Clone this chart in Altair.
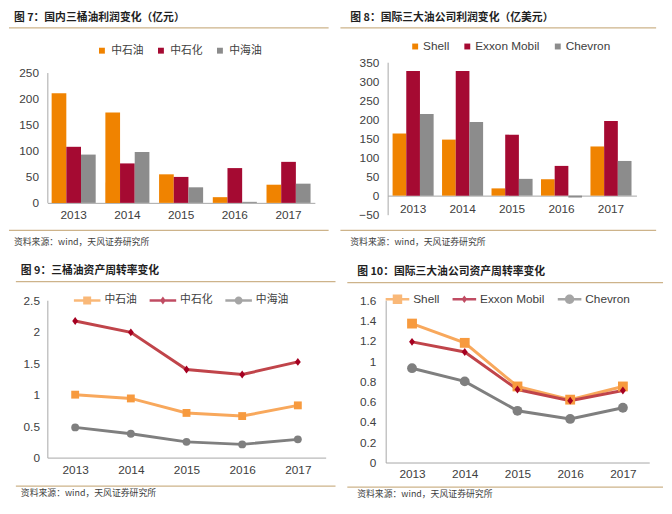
import altair as alt
import pandas as pd

# ---------------- data ----------------
years = ["2013", "2014", "2015", "2016", "2017"]
cn_companies = ["中石油", "中石化", "中海油"]
intl_companies = ["Shell", "Exxon Mobil", "Chevron"]

profit_cnpc = [211, 174, 55, 11, 35]
profit_sinopec = [108, 76, 50, 67, 79]
profit_cnooc = [93, 98, 30, 2, 37]

profit_shell = [163, 147, 19, 43, 129]
profit_exxon = [327, 327, 160, 78, 196]
profit_chevron = [214, 193, 44, -5, 91]

turnover_cnpc = [1.00, 0.94, 0.71, 0.66, 0.83]
turnover_sinopec = [2.17, 1.99, 1.40, 1.32, 1.52]
turnover_cnooc = [0.48, 0.38, 0.25, 0.21, 0.29]

turnover_shell = [1.37, 1.18, 0.75, 0.62, 0.75]
turnover_exxon = [1.19, 1.09, 0.72, 0.61, 0.71]
turnover_chevron = [0.93, 0.80, 0.51, 0.43, 0.54]

ticks_profit_cn = [0, 50, 100, 150, 200, 250]
ticks_profit_intl = [-50, 0, 50, 100, 150, 200, 250, 300, 350]
ticks_turn_cn = [0, 0.5, 1, 1.5, 2, 2.5]
ticks_turn_intl = [0, 0.2, 0.4, 0.6, 0.8, 1.0, 1.2, 1.4, 1.6]

title7 = "图 7：国内三桶油利润变化（亿元）"
title8 = "图 8：国际三大油公司利润变化（亿美元）"
title9 = "图 9：三桶油资产周转率变化"
title10 = "图 10：国际三大油公司资产周转率变化"
source_text = "资料来源：wind，天风证券研究所"

# ---------------- styles ----------------
CJK = "Noto Sans CJK SC"
LAT = "Liberation Sans"
RULE = "#CDB38A"
AXIS = "#A6A6A6"
LABEL = "#404040"
BAR_COLORS = ["#F08300", "#A50A32", "#8C8C8C"]
LINE_COLORS = ["#F8A85C", "#C0444A", "#7F7F7F"]
MARKER_COLORS = ["#F79A3E", "#A50021", "#7F7F7F"]


def long_frame(companies, series):
    rows = []
    for c, vals in zip(companies, series):
        for y, v in zip(years, vals):
            rows.append({"year": y, "company": c, "value": v})
    return pd.DataFrame(rows)


def hrule(x0, x1, y, color=RULE, width=1.2):
    return alt.Chart(pd.DataFrame({"k": [0]})).mark_rule(color=color, strokeWidth=width).encode(
        x=alt.value(x0), x2=alt.value(x1), y=alt.value(y))


def decorations(title, left, right, title_xy, rule_top, rule_bottom, source_xy):
    t = alt.Chart(pd.DataFrame({"t": [title]})).mark_text(
        align="left", baseline="middle", font=CJK, fontSize=11, fontWeight="bold",
        color="#1F1F1F").encode(text="t:N", x=alt.value(title_xy[0]), y=alt.value(title_xy[1]))
    s = alt.Chart(pd.DataFrame({"t": [source_text]})).mark_text(
        align="left", baseline="middle", font=CJK, fontSize=9,
        color="#404040").encode(text="t:N", x=alt.value(source_xy[0]), y=alt.value(source_xy[1]))
    return [hrule(left, right, rule_top), hrule(left, right, rule_bottom), t, s]


def y_axis(values, pad, show_domain=True):
    return alt.Axis(title=None, values=values, grid=False, ticks=False, domain=show_domain,
                    domainColor=AXIS, labelFont=LAT, labelFontSize=12, labelColor=LABEL,
                    labelPadding=pad, format="~r")


def bar_panel(df, companies, W, H, ydom, yticks, legend_x, legend_y, legend_font,
              legend_size, label_offset, deco, pad_inner, pad_outer, ypad, xpad):
    zero_offset = -H * (0 - ydom[0]) / (ydom[1] - ydom[0])
    xaxis = alt.Axis(title=None, labelAngle=0, ticks=False, domainColor=AXIS,
                     labelFont=LAT, labelFontSize=12, labelColor=LABEL, labelPadding=xpad,
                     offset=zero_offset)
    full_axis = yticks[-1] >= ydom[1]
    layers = list(deco)
    if not full_axis:
        # the y-axis line stops at the last tick (scale position of yticks[-1])
        top_px = H * (ydom[1] - yticks[-1]) / (ydom[1] - ydom[0])
        layers.append(alt.Chart(pd.DataFrame({"k": [0]})).mark_rule(
            color=AXIS, strokeWidth=1).encode(
            x=alt.value(0.5), y=alt.value(top_px), y2=alt.value(H)))
    bars = alt.Chart(df).mark_bar().encode(
        x=alt.X("year:N", sort=years,
                scale=alt.Scale(paddingInner=pad_inner, paddingOuter=pad_outer), axis=xaxis),
        xOffset=alt.XOffset("company:N", sort=companies, scale=alt.Scale(domain=companies)),
        y=alt.Y("value:Q", scale=alt.Scale(domain=ydom, nice=False),
                axis=y_axis(yticks, ypad, show_domain=full_axis)),
        color=alt.Color("company:N", sort=companies,
                        scale=alt.Scale(domain=companies, range=BAR_COLORS),
                        legend=alt.Legend(orient="none", legendX=legend_x, legendY=legend_y,
                                          direction="horizontal", columns=3, title=None,
                                          symbolType="square", symbolSize=36,
                                          symbolStrokeWidth=0, labelFont=legend_font,
                                          labelFontSize=legend_size, labelColor=LABEL,
                                          labelOffset=label_offset, columnPadding=12,
                                          padding=0)),
    )
    layers.append(bars)
    return alt.layer(*layers).properties(width=W, height=H)


def sym_line(h):
    return f"M-1,{-h}L1,{-h}L1,{h}L-1,{h}Z"


def line_panel(df, companies, W, H, ymax, yticks, marker_shapes, marker_sizes,
               legend_paths, legend_symbol_size, legend_x, legend_y, legend_font,
               legend_size, deco, ypad, xpad):
    x = alt.X("year:O", sort=years, scale=alt.Scale(type="point", padding=0.5),
              axis=alt.Axis(title=None, labelAngle=0, ticks=False, domainColor=AXIS,
                            labelFont=LAT, labelFontSize=12, labelColor=LABEL,
                            labelPadding=xpad))
    y = alt.Y("value:Q", scale=alt.Scale(domain=[0, ymax], nice=False),
              axis=y_axis(yticks, ypad))
    series_lines = []
    series_points = []
    for c, shp, sz, lcol, mcol in zip(companies, marker_shapes, marker_sizes,
                                      LINE_COLORS, MARKER_COLORS):
        sub = alt.Chart(df).transform_filter(alt.datum.company == c)
        series_lines.append(sub.mark_line(strokeWidth=3, color=lcol).encode(x=x, y=y))
        series_points.append(sub.mark_point(filled=True, opacity=1, shape=shp, size=sz,
                                            color=mcol, strokeWidth=0).encode(x=x, y=y))
    leg = alt.Legend(orient="none", legendX=legend_x, legendY=legend_y, direction="horizontal",
                     columns=3, title=None, symbolSize=legend_symbol_size, symbolStrokeWidth=0,
                     labelFont=legend_font, labelFontSize=legend_size, labelColor=LABEL,
                     labelOffset=4, columnPadding=13, padding=0)
    # legend-only layer (draws nothing; the legend comes from the scales' domains)
    legend_layer = alt.Chart(df).transform_filter("false").mark_point(filled=True).encode(
        x=x, y=y,
        color=alt.Color("company:N", sort=companies,
                        scale=alt.Scale(domain=companies, range=MARKER_COLORS), legend=leg),
        shape=alt.Shape("company:N", sort=companies,
                        scale=alt.Scale(domain=companies, range=legend_paths), legend=leg))
    return alt.layer(*deco, *series_lines, *series_points, legend_layer).properties(
        width=W, height=H)


DIAMOND = "M0,-1L0.75,0L0,1L-0.75,0Z"


def legend_shapes(h, s, a, b, r):
    ln = sym_line(h)
    return [
        ln + f"M{-s},{-s}L{s},{-s}L{s},{s}L{-s},{s}Z",
        ln + f"M0,{-a}L{b},0L0,{a}L{-b},0Z",
        ln + f"M{-r},0A{r},{r} 0 1,1 {r},0A{r},{r} 0 1,1 {-r},0Z",
    ]


# ---------------- panels ----------------
# panel 1's plot area starts at the same height as panel 2's (row alignment),
# so its y range is extended above 250 while the axis line stops at 250.
H1 = 143
Y1TOP = 250 * H1 / 132
p1 = bar_panel(long_frame(cn_companies, [profit_cnpc, profit_sinopec, profit_cnooc]),
               cn_companies, 272, H1, [0, Y1TOP], ticks_profit_cn,
               50, -17.5, CJK, 11, 4,
               decorations(title7, -39, 286, (-34, -45), -35, 171, (-34, 183)),
               0.18, 0.08, 9, 7)

p2 = bar_panel(long_frame(intl_companies, [profit_shell, profit_exxon, profit_chevron]),
               intl_companies, 253, 155, [-50, 350], ticks_profit_intl,
               22, -22, LAT, 12, 2,
               decorations(title8, -48, 273, (-38, -45), -35, 171, (-38, 183)),
               0.17, 0.1, 9, 8)

p3 = line_panel(long_frame(cn_companies, [turnover_cnpc, turnover_sinopec, turnover_cnooc]),
                cn_companies, 283, 160, 2.5, ticks_turn_cn,
                ["square", DIAMOND, "circle"], [64, 64, 64],
                legend_shapes(0.1, 0.3, 0.3, 0.22, 0.3), 729,
                27, -13.5, CJK, 11,
                decorations(title9, -32, 293, (-27, -30), -19, 189, (-27, 196)),
                8, 7)

p4 = line_panel(long_frame(intl_companies, [turnover_shell, turnover_exxon, turnover_chevron]),
                intl_companies, 268, 165, 1.6, ticks_turn_intl,
                ["square", DIAMOND, "circle"], [100, 64, 100],
                legend_shapes(0.11, 0.4, 0.32, 0.24, 0.4), 576,
                0, -13, LAT, 12,
                decorations(title10, -39, 282, (-29, -29), -18, 190, (-29, 197)),
                10, 6)

RES = dict(color="independent", xOffset="independent", shape="independent",
           x="independent", y="independent")
LEG = dict(color="independent", shape="independent")

row1 = alt.hconcat(p1, p2, spacing=10).resolve_scale(**RES).resolve_legend(**LEG)
row2 = alt.hconcat(p3, p4, spacing=10).resolve_scale(**RES).resolve_legend(**LEG)

chart = alt.vconcat(row1, row2, spacing=18).resolve_scale(**RES).resolve_legend(**LEG).properties(
    padding=0, background="white"
).configure_view(strokeWidth=0)

chart.save("out.html", embed_options={"renderer": "svg", "actions": False})
